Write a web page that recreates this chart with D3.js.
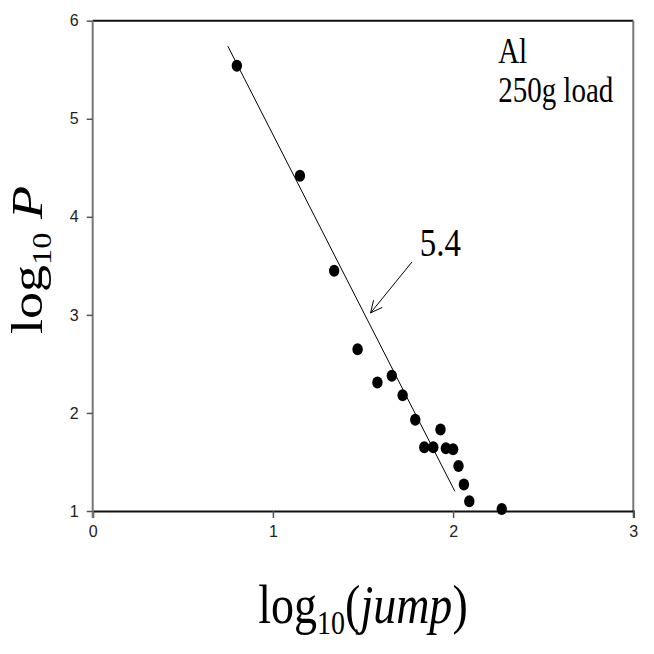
<!DOCTYPE html>
<html>
<head>
<meta charset="utf-8">
<script src="https://cdn.jsdelivr.net/npm/d3@7"></script>
<style>
  body { margin: 0; background: #fff; }
  .tick text { font-family: "Liberation Sans", Arial, sans-serif; font-size: 16px; fill: #222; }
  .serif { font-family: "Liberation Serif", "Times New Roman", serif; fill: #000; }
</style>
</head>
<body>
<div id="chart"></div>
<script>
// data
const jumpLog = [0.80, 1.15, 1.34, 1.47, 1.58, 1.66, 1.72, 1.79, 1.84, 1.89, 1.93, 1.96, 2.00, 2.03, 2.06, 2.09, 2.27];
const pLog    = [5.54, 4.42, 3.45, 2.65, 2.31, 2.38, 2.18, 1.93, 1.65, 1.65, 1.83, 1.64, 1.63, 1.46, 1.27, 1.10, 1.02];
// fitted line ends
const fitX = [0.75, 2.01];
const fitY = [5.74, 1.20];
const xTicks = [0, 1, 2, 3];
const yTicks = [1, 2, 3, 4, 5, 6];
const slopeLabel = "5.4";
const noteLines = ["Al", "250g load"];

var width = 654, height = 654;
var margin = {top: 20.7, right: 20.7, bottom: 143, left: 92.7};
var stretch = 1.2; // the original text is a bit tall

var svg = d3.select("#chart")
    .append("svg")
        .attr("width", width)
        .attr("height", height);

var x = d3.scaleLinear()
    .domain([0, 3])
    .range([margin.left, width - margin.right]);
var y = d3.scaleLinear()
    .domain([1, 6])
    .range([height - margin.bottom, margin.top]);

// frame: top and right
svg.append("line")
    .attr("x1", x(0)).attr("x2", x(3))
    .attr("y1", y(6)).attr("y2", y(6))
    .attr("stroke", "#111").attr("stroke-width", 2);
svg.append("line")
    .attr("x1", x(3)).attr("x2", x(3))
    .attr("y1", y(6)).attr("y2", y(1))
    .attr("stroke", "#777").attr("stroke-width", 2);

// X axis
var gx = svg.append("g")
    .attr("transform", "translate(0," + y(1) + ")")
    .call(d3.axisBottom(x).tickValues(xTicks).tickFormat(d3.format("d")).tickSize(7).tickPadding(8));
gx.select(".domain").attr("stroke", "#111").attr("stroke-width", 2);
gx.selectAll(".tick line").attr("stroke", "#555").attr("stroke-width", 1.5);

// Y axis
var gy = svg.append("g")
    .attr("transform", "translate(" + x(0) + ",0)")
    .call(d3.axisLeft(y).tickValues(yTicks).tickFormat(d3.format("d")).tickSize(6).tickPadding(8));
gy.select(".domain").attr("stroke", "#777").attr("stroke-width", 2)
    .attr("d", "M0," + y(6) + "V" + (y(1) + 7));
gy.selectAll(".tick line").attr("stroke", "#555").attr("stroke-width", 1.5);

// fitted line
svg.append("line")
    .attr("x1", x(fitX[0])).attr("y1", y(fitY[0]))
    .attr("x2", x(fitX[1])).attr("y2", y(fitY[1]))
    .attr("stroke", "#000").attr("stroke-width", 1);

// points
svg.append("g")
    .selectAll("ellipse")
    .data(jumpLog.map((d, i) => ({jx: d, py: pLog[i]})))
    .join("ellipse")
        .attr("cx", d => x(d.jx))
        .attr("cy", d => y(d.py))
        .attr("rx", 5.2)
        .attr("ry", 6)
        .attr("fill", "#000");

// arrow to the line with the slope label
var tail = [x(1.772), y(3.54)], tip = [x(1.542), y(3.02)];
svg.append("line")
    .attr("x1", tail[0]).attr("y1", tail[1])
    .attr("x2", tip[0]).attr("y2", tip[1])
    .attr("stroke", "#000").attr("stroke-width", 1);
var ang = Math.atan2(tail[1] - tip[1], tail[0] - tip[0]);
[-0.45, 0.45].forEach(function(a) {
    svg.append("line")
        .attr("x1", tip[0]).attr("y1", tip[1])
        .attr("x2", tip[0] + 13 * Math.cos(ang + a))
        .attr("y2", tip[1] + 13 * Math.sin(ang + a))
        .attr("stroke", "#000").attr("stroke-width", 1);
});
svg.append("text")
    .attr("class", "serif")
    .attr("transform", "translate(" + x(1.815) + "," + y(3.6) + ") scale(1," + stretch + ")")
    .attr("font-size", 33)
    .text(slopeLabel);

// material note
svg.selectAll(".note")
    .data(noteLines)
    .join("text")
        .attr("class", "serif note")
        .attr("transform", (d, i) => "translate(" + x(2.25) + "," + (y(5.57) + i * 39) + ") scale(1," + stretch + ")")
        .attr("font-size", 29)
        .text(d => d);

// x label
var xl = svg.append("text")
    .attr("class", "serif")
    .attr("text-anchor", "middle")
    .attr("transform", "translate(" + (x(0) + x(3)) / 2 + ",623) scale(1," + stretch + ")")
    .attr("font-size", 46);
xl.append("tspan").text("log");
xl.append("tspan").attr("font-size", 28).attr("dy", 9).text("10");
xl.append("tspan").attr("dy", -9).text("(");
xl.append("tspan").attr("font-style", "italic").text("jump");
xl.append("tspan").text(")");

// y label
var yl = svg.append("text")
    .attr("class", "serif")
    .attr("text-anchor", "middle")
    .attr("transform", "translate(42,260) rotate(-90) scale(" + stretch + ",1)")
    .attr("font-size", 45);
yl.append("tspan").text("log");
yl.append("tspan").attr("font-size", 27).attr("dy", 9).text("10");
yl.append("tspan").attr("dy", -9).attr("font-style", "italic").text(" P");
</script>
</body>
</html>
